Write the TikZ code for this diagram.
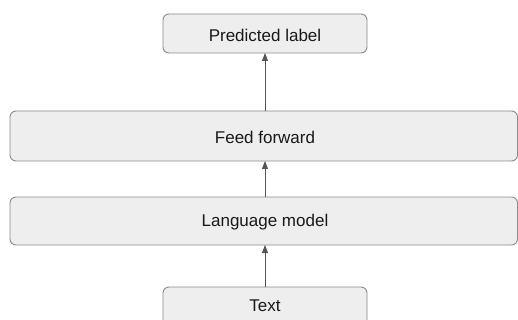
\documentclass[tikz,border=0pt]{standalone}
\usepackage{fontspec}
\setmainfont{Liberation Sans}
\usetikzlibrary{arrows.meta}
\definecolor{boxfill}{HTML}{EEEEEE}
\definecolor{boxline}{HTML}{8A8A8A}
\definecolor{arrowc}{HTML}{555555}
\begin{document}
\begin{tikzpicture}[x=1pt,y=-1pt,
  blk/.style={draw=boxline,fill=boxfill,rounded corners=6pt,line width=0.9pt},
  lbl/.style={font=\fontsize{17}{19}\selectfont,text=black!90},
  conn/.style={draw=arrowc,line width=0.8pt,-{Triangle[length=8pt,width=6pt]}}]
\useasboundingbox (0,0) rectangle (518,320);
\clip (0,0) rectangle (518,320);
\draw[blk] (163,14) rectangle (367,53);
\node[lbl] (pl) at (265,35) {Predicted label};
\coordinate (plb) at (265,53);
\draw[blk] (10,111) rectangle (517.5,161);
\node[lbl] (ff) at (265,137) {Feed forward};
\coordinate (fft) at (265,111);
\coordinate (ffb) at (265,161);
\draw[blk] (10,197) rectangle (517.5,245);
\node[lbl] (lm) at (265,222) {Language model};
\coordinate (lmt) at (265,197);
\coordinate (lmb) at (265,245);
\draw[blk] (163,287) rectangle (367,335);
\node[lbl] (tx) at (265,306) {Text};
\coordinate (txt) at (265,287);
\draw[conn] (txt) -- (lmb);
\draw[conn] (lmt) -- (ffb);
\draw[conn] (fft) -- (plb);
\end{tikzpicture}
\end{document}
